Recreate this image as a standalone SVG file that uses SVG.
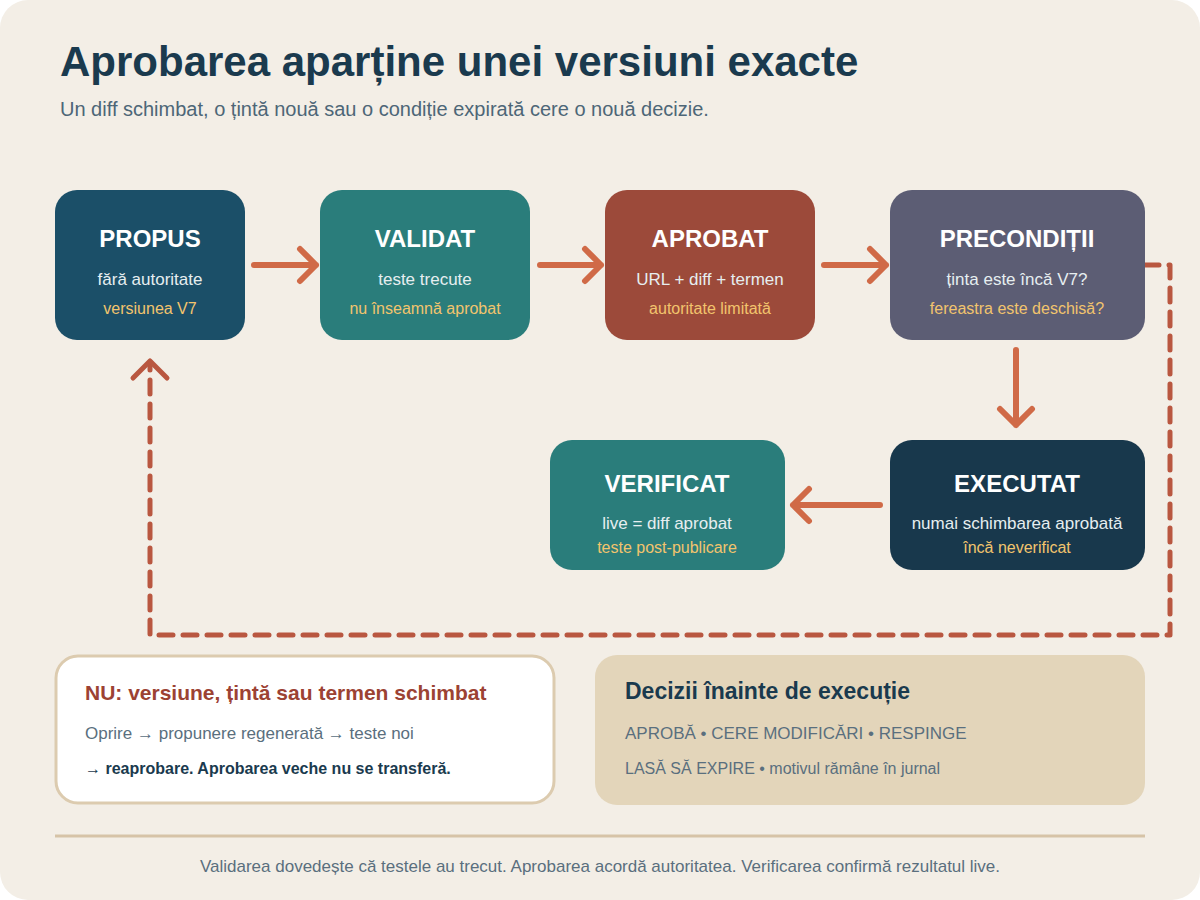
<svg xmlns="http://www.w3.org/2000/svg" width="1200" height="900" viewBox="0 0 1200 900">
<defs>
<style>
text{font-family:"Liberation Sans",Arial,sans-serif}
.nt{font-size:24px;font-weight:bold;fill:#ffffff;text-anchor:middle}
.n2{font-size:17px;fill:#e6eef0;text-anchor:middle}
.n3{font-size:16px;fill:#f2c46d;text-anchor:middle}
.flow{fill:none;stroke:#d06a47;stroke-width:6;stroke-linecap:round;stroke-linejoin:round}
.loop{fill:none;stroke:#b95740;stroke-width:5;stroke-linecap:round;stroke-linejoin:round}
.body{font-size:17px;fill:#5a6f7e}
</style>
</defs>
<rect x="0" y="0" width="1200" height="900" fill="#ffffff"/>
<rect x="0" y="0" width="1200" height="900" rx="28" fill="#f3eee6"/>
<g id="header">
<text x="60" y="76" font-size="42" font-weight="bold" fill="#1a3a4e">Aprobarea aparține unei versiuni exacte</text>
<text x="60" y="116" font-size="20" fill="#4d6677">Un diff schimbat, o țintă nouă sau o condiție expirată cere o nouă decizie.</text>
</g>
<g id="connectors">
<path class="flow" d="M254 265H316M300 249L316 265L300 281"/>
<path class="flow" d="M540 265H601M585 249L601 265L585 281"/>
<path class="flow" d="M824 265H886M870 249L886 265L870 281"/>
<path class="flow" d="M1016 350V425M1000 409L1016 425L1032 409"/>
<path class="flow" d="M880 505H793M809 489L793 505L809 521"/>
<path class="loop" d="M1145 265H1170V635H150V362" stroke-dasharray="14 10"/>
<path class="loop" d="M133 378L150 361L167 378"/>
</g>
<g id="propus">
<rect x="55" y="190" width="190" height="150" rx="22" fill="#1b4f68"/>
<text class="nt" x="150" y="247">PROPUS</text>
<text class="n2" x="150" y="285">fără autoritate</text>
<text class="n3" x="150" y="314">versiunea V7</text>
</g>
<g id="validat">
<rect x="320" y="190" width="210" height="150" rx="22" fill="#2a7d7b"/>
<text class="nt" x="425" y="247">VALIDAT</text>
<text class="n2" x="425" y="285">teste trecute</text>
<text class="n3" x="425" y="314">nu înseamnă aprobat</text>
</g>
<g id="aprobat">
<rect x="605" y="190" width="210" height="150" rx="22" fill="#9c4a3a"/>
<text class="nt" x="710" y="247">APROBAT</text>
<text class="n2" x="710" y="285">URL + diff + termen</text>
<text class="n3" x="710" y="314">autoritate limitată</text>
</g>
<g id="preconditii">
<rect x="890" y="190" width="255" height="150" rx="22" fill="#5c5d74"/>
<text class="nt" x="1017" y="247">PRECONDIȚII</text>
<text class="n2" x="1017" y="285">ținta este încă V7?</text>
<text class="n3" x="1017" y="314">fereastra este deschisă?</text>
</g>
<g id="verificat">
<rect x="550" y="440" width="235" height="130" rx="22" fill="#2a7d7b"/>
<text class="nt" x="667" y="492">VERIFICAT</text>
<text class="n2" x="667" y="529">live = diff aprobat</text>
<text class="n3" x="667" y="553">teste post-publicare</text>
</g>
<g id="executat">
<rect x="890" y="440" width="255" height="130" rx="22" fill="#18384c"/>
<text class="nt" x="1017" y="492">EXECUTAT</text>
<text class="n2" x="1017" y="529">numai schimbarea aprobată</text>
<text class="n3" x="1017" y="553">încă neverificat</text>
</g>
<g id="nu-box">
<rect x="56" y="656" width="498" height="147" rx="22" fill="#ffffff" stroke="#dccbaf" stroke-width="3"/>
<text x="85" y="700" font-size="21" font-weight="bold" fill="#9c4233">NU: versiune, țintă sau termen schimbat</text>
<text class="body" x="85" y="739">Oprire → propunere regenerată → teste noi</text>
<text x="85" y="774" font-size="16" font-weight="bold" fill="#1a3a4e">→ reaprobare. Aprobarea veche nu se transferă.</text>
</g>
<g id="decizii-box">
<rect x="595" y="655" width="550" height="150" rx="22" fill="#e3d5ba"/>
<text x="625" y="699" font-size="23" font-weight="bold" fill="#1a3a4e">Decizii înainte de execuție</text>
<text x="625" y="739" font-size="17" fill="#5a6f7e">APROBĂ • CERE MODIFICĂRI • RESPINGE</text>
<text x="625" y="774" font-size="16" fill="#5a6f7e">LASĂ SĂ EXPIRE • motivul rămâne în jurnal</text>
</g>
<g id="footer">
<line x1="55" y1="836" x2="1145" y2="836" stroke="#d6c3a7" stroke-width="3"/>
<text x="600" y="872" font-size="17" fill="#5a6f7e" text-anchor="middle">Validarea dovedește că testele au trecut. Aprobarea acordă autoritatea. Verificarea confirmă rezultatul live.</text>
</g>
</svg>
